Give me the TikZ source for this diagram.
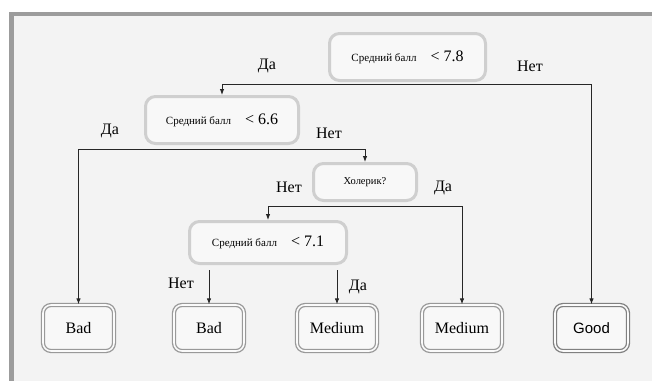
\documentclass[tikz,border=0pt]{standalone}
\usepackage{fontspec}
\setmainfont{Liberation Serif}
\newfontfamily\goodfont{Liberation Sans}
\usetikzlibrary{arrows.meta}
\definecolor{framegray}{HTML}{9C9C9C}
\definecolor{panel}{HTML}{F3F3F3}
\definecolor{testedge}{HTML}{CFCFCF}
\definecolor{leafedge}{HTML}{999999}
\definecolor{goodedge}{HTML}{808080}
\newcommand{\balltext}[1]{{\fontsize{11}{11}\selectfont Средний балл}\hspace{14pt}{\fontsize{16}{16}\selectfont \textless{} #1}}
\begin{document}
\begin{tikzpicture}[x=1pt,y=-1pt,
  test/.style={draw=testedge,line width=3pt,rounded corners=10pt,fill=white!45!panel,inner sep=0pt},
  leaf/.style={draw=leafedge,double=white!60!panel,double distance=1.6pt,line width=1.3pt,rounded corners=8pt,
    fill=white!45!panel,minimum height=46pt,inner sep=0pt,font=\fontsize{16}{16}\selectfont},
  lbl/.style={font=\fontsize{16}{16}\selectfont,inner sep=0pt},
  arr/.style={-{Latex[length=6pt,width=4.5pt]},line width=0.9pt,draw=black!85}]
\useasboundingbox (0,0) rectangle (652,381);
\fill[white] (0,0) rectangle (652,381);
\fill[panel] (9,12) rectangle (652,381);
\fill[framegray] (9,12) rectangle (652,16);
\fill[framegray] (9,12) rectangle (14,381);
% tests
\node[test,minimum width=156pt,minimum height=47pt] (root) at (407.5,57) {\balltext{7.8}};
\node[test,minimum width=153pt,minimum height=47pt] (l1) at (222,120) {\balltext{6.6}};
\node[test,minimum width=103pt,minimum height=37pt,font=\fontsize{10.5}{10.5}\selectfont] (chol) at (365,182) {Холерик?};
\node[test,minimum width=157pt,minimum height=42pt] (l3) at (268,242.5) {\balltext{7.1}};
% leaves
\node[leaf,minimum width=71pt] (bad1) at (78.5,328) {Bad};
\node[leaf,minimum width=70pt] (bad2) at (209,328) {Bad};
\node[leaf,minimum width=80pt] (med1) at (337,328) {Medium};
\node[leaf,minimum width=80pt] (med2) at (462,328) {Medium};
\node[leaf,draw=goodedge,minimum width=73pt,font=\fontsize{15}{15}\goodfont] (good) at (591.5,328) {Good};
% branches
\draw[arr] ([yshift=-2.5pt]root.south) -| (l1.north);
\draw[arr] ([yshift=-2.5pt]root.south) -| (good.north);
\draw[arr] ([yshift=-4pt]l1.south) -| (bad1.north);
\draw[arr] ([yshift=-4pt]l1.south) -| (chol.north);
\draw[arr] ([yshift=-4pt]chol.south) -| (l3.north);
\draw[arr] ([yshift=-4pt]chol.south) -| (med2.north);
\draw[arr] (bad2.north |- l3.south) ++(0,5) -- (bad2.north);
\draw[arr] (med1.north |- l3.south) ++(0,5) -- (med1.north);
% answers
\node[lbl] (yes1) at (267,66) {Да};
\node[lbl] (no1) at (530,66) {Нет};
\node[lbl] (yes2) at (110,131) {Да};
\node[lbl] (no2) at (329,133) {Нет};
\node[lbl] (no3) at (289,187) {Нет};
\node[lbl] (yes3) at (443,188) {Да};
\node[lbl] (no4) at (181,283) {Нет};
\node[lbl] (yes4) at (358,287) {Да};
\end{tikzpicture}
\end{document}
